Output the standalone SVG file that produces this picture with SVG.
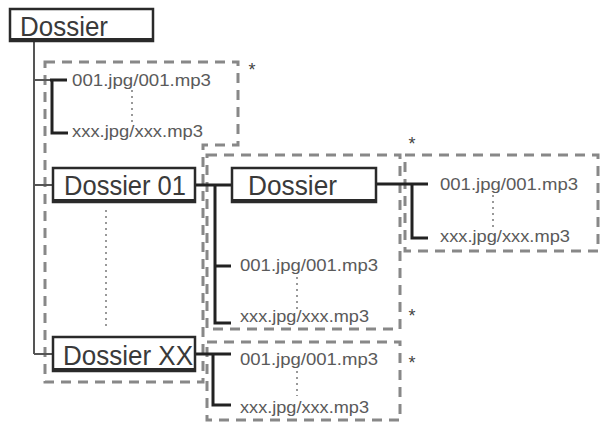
<svg xmlns="http://www.w3.org/2000/svg" width="601" height="426" viewBox="0 0 601 426">
<style>
.box{fill:#fff;stroke:#2a2a2a;stroke-width:2.5}
.boxb{stroke:#2a2a2a;stroke-width:4;fill:none}
.big{font-family:"Liberation Sans",Arial,sans-serif;font-size:28px;fill:#3a3a3a}
.file{font-family:"Liberation Sans",Arial,sans-serif;font-size:17px;fill:#5a5a5a}
.ast{font-family:"Liberation Sans",Arial,sans-serif;font-size:18px;fill:#444;text-anchor:middle}
.thin{stroke:#555;stroke-width:2;fill:none}
.thick{stroke:#222;stroke-width:3;fill:none}
.dot{stroke:#999;stroke-width:2;stroke-dasharray:2 4;fill:none}
.dash{stroke:#888;stroke-width:3;stroke-dasharray:10 7;fill:none}
</style>
<rect width="601" height="426" fill="#fff"/>
<g id="groups">
<polygon class="dash" points="45,62 238,62 238,145 203,145 203,382 45,382"/>
<rect class="dash" x="207" y="155" width="193" height="174"/>
<rect class="dash" x="405" y="155" width="193" height="96"/>
<rect class="dash" x="207" y="342" width="193" height="78"/>
<text class="ast" x="252" y="76">*</text>
<text class="ast" x="412" y="150">*</text>
<text class="ast" x="412" y="322">*</text>
<text class="ast" x="412" y="369">*</text>
</g>
<g id="connectors">
<path class="thin" d="M34,41 V354 M34,80 H50 M34,185 H53 M34,354 H53"/>
<path class="thick" d="M50,80 H67 M52,80 V133 H68"/>
<path class="thick" d="M195,185 H232 M215,185 V323 H231 M215,266 H231"/>
<path class="thick" d="M376,184 H428 M412,184 V238 H428"/>
<path class="thick" d="M195,354 H231 M213,354 V405 H231"/>
<path class="dot" d="M132,90 V124 M106,210 V328 M297,277 V309 M493,195 V229 M297,371 V396"/>
</g>
<g id="root">
<rect class="box" x="10" y="9" width="143" height="32"/>
<line class="boxb" x1="9" y1="40" x2="154" y2="40"/>
<text class="big" x="20" y="36" textLength="88" lengthAdjust="spacingAndGlyphs">Dossier</text>
</g>
<g id="files-root">
<text class="file" x="72" y="86" textLength="139" lengthAdjust="spacingAndGlyphs">001.jpg/001.mp3</text>
<text class="file" x="72" y="137" textLength="131" lengthAdjust="spacingAndGlyphs">xxx.jpg/xxx.mp3</text>
</g>
<g id="dossier01">
<rect class="box" x="53" y="168" width="142" height="34"/>
<line class="boxb" x1="52" y1="201" x2="196" y2="201"/>
<text class="big" x="64" y="195" textLength="122" lengthAdjust="spacingAndGlyphs">Dossier 01</text>
</g>
<g id="dossier-sub">
<rect class="box" x="232" y="168" width="144" height="34"/>
<line class="boxb" x1="231" y1="201" x2="377" y2="201"/>
<text class="big" x="248" y="195" textLength="89" lengthAdjust="spacingAndGlyphs">Dossier</text>
</g>
<g id="files-01">
<text class="file" x="240" y="271" textLength="138" lengthAdjust="spacingAndGlyphs">001.jpg/001.mp3</text>
<text class="file" x="240" y="322" textLength="129" lengthAdjust="spacingAndGlyphs">xxx.jpg/xxx.mp3</text>
</g>
<g id="files-sub">
<text class="file" x="440" y="190" textLength="138" lengthAdjust="spacingAndGlyphs">001.jpg/001.mp3</text>
<text class="file" x="440" y="242" textLength="130" lengthAdjust="spacingAndGlyphs">xxx.jpg/xxx.mp3</text>
</g>
<g id="dossierXX">
<rect class="box" x="53" y="337" width="142" height="34"/>
<line class="boxb" x1="52" y1="370" x2="196" y2="370"/>
<text class="big" x="63" y="365" textLength="130" lengthAdjust="spacingAndGlyphs">Dossier XX</text>
</g>
<g id="files-XX">
<text class="file" x="240" y="365" textLength="138" lengthAdjust="spacingAndGlyphs">001.jpg/001.mp3</text>
<text class="file" x="240" y="413" textLength="129" lengthAdjust="spacingAndGlyphs">xxx.jpg/xxx.mp3</text>
</g>
</svg>
